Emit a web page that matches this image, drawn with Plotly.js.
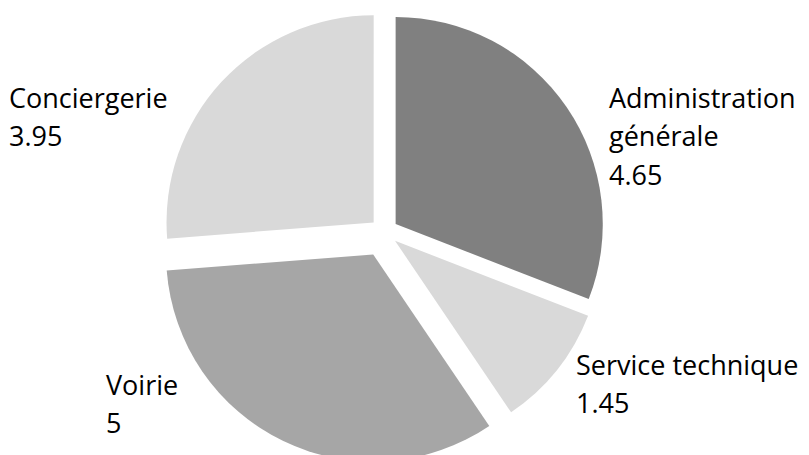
<!DOCTYPE html>
<html>
<head>
<meta charset="utf-8">
<script src="https://cdn.plot.ly/plotly-3.0.1.min.js"></script>
<style>html,body{margin:0;padding:0;background:#fff;overflow:hidden;}#wrap{width:809px;height:455px;overflow:hidden;}</style>
</head>
<body>
<div id="wrap"><div id="chart"></div></div>
<script>
// Data
var categories = ["Administration générale", "Service technique", "Voirie", "Conciergerie"];
var labelLines = [["Administration", "générale"], ["Service technique"], ["Voirie"], ["Conciergerie"]];
var values = [4.65, 1.45, 5, 3.95];
var valueLabels = ["4.65", "1.45", "5", "3.95"];
var colors = ["#808080", "#d9d9d9", "#a6a6a6", "#d9d9d9"];
var explode = [0.068, 0.068, 0.12, 0.068];

// Label placement (px, styling only)
var labelPos = [
  {x: 607, y: 97},
  {x: 574, y: 364},
  {x: 104, y: 384},
  {x: 7, y: 97}
];
var lineStep = 38.5;
var W = 809, H = 464;

var annotations = [];
for (var i = 0; i < categories.length; i++) {
  var lines = labelLines[i].concat([valueLabels[i]]);
  for (var j = 0; j < lines.length; j++) {
    annotations.push({
      text: lines[j],
      xref: "paper", yref: "paper",
      x: labelPos[i].x / W,
      y: 1 - (labelPos[i].y + j * lineStep) / H,
      xanchor: "left", yanchor: "middle",
      showarrow: false,
      font: {family: "Open Sans, Noto Sans, sans-serif", size: 27, color: "#000"}
    });
  }
}

var trace = {
  type: "pie",
  labels: categories,
  values: values,
  sort: false,
  direction: "clockwise",
  rotation: 0,
  pull: explode,
  marker: {colors: colors, line: {width: 0}},
  textinfo: "none",
  hoverinfo: "label+value",
  domain: {x: [144 / W, 624 / W], y: [0, 1]}
};

var layout = {
  width: W, height: H,
  margin: {l: 0, r: 0, t: 0, b: 0},
  showlegend: false,
  paper_bgcolor: "#fff",
  annotations: annotations
};

Plotly.newPlot("chart", [trace], layout, {displayModeBar: false, staticPlot: true});
</script>
</body>
</html>
